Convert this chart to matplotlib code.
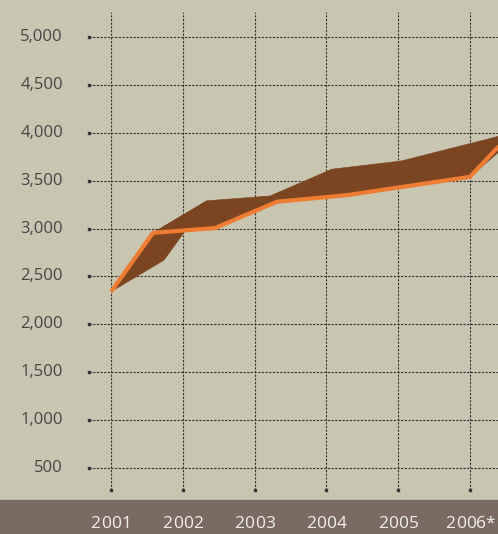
import numpy as np
import matplotlib
matplotlib.use('Agg')
import matplotlib.pyplot as plt
from matplotlib.patches import Polygon

# year labels along the bottom band
years = ['2001', '2002', '2003', '2004', '2005', '2006*']
y_ticks = [500, 1000, 1500, 2000, 2500, 3000, 3500, 4000, 4500, 5000]

# front edge of the ribbon (x in year steps from 2001, value)
front_x = [0.0, 0.585, 1.449, 2.312, 3.301, 5.0, 5.836]
front_v = [2340, 2955, 3005, 3280, 3350, 3540, 4205]
# back edge of the ribbon
back_x = [0.738, 1.337, 2.214, 3.078, 4.039, 5.752, 6.59]
back_v = [2670, 3290, 3340, 3620, 3705, 4030, 4700]

bg = '#c8c6b0'
band = '#7a6a61'
brown = '#7b4521'
orange = '#ee7c33'
grid_c = '#333333'

fig = plt.figure(figsize=(4.98, 5.34), dpi=100)
fig.patch.set_facecolor(bg)
ax = fig.add_axes([0, 0, 1, 1])
ax.set_facecolor(bg)
ax.set_xlim(-1.546, 5.39)
ax.set_ylim(-189, 5386)
ax.axis('off')

# dark band at the bottom
ax.axhspan(-189, 166, color=band, zorder=1)

# dotted grid with small end dots
gx0, gy0, gy1 = -0.306, 270, 5262
for v in y_ticks:
    ax.plot([gx0, 5.39], [v, v], color=grid_c, lw=0.8, ls=(0, (2, 1.3)), zorder=2)
    ax.plot(gx0, v, 's', color=grid_c, ms=2, zorder=2)
    ax.text(-0.668, v, format(v, ','), ha='right', va='center',
            fontsize=12, family='Open Sans', color='#464646')

# letter-spaced year labels, one glyph at a time
step = 7.4  # points between digit centres
for i, lab in enumerate(years):
    ax.plot([i, i], [gy0, gy1], color=grid_c, lw=0.8, ls=(0, (2, 1.3)), zorder=2)
    ax.plot(i, gy0, 's', color=grid_c, ms=2, zorder=2)
    adv = np.array([step if ch.isdigit() else step * 0.8 for ch in lab])
    pos = np.cumsum(adv) - adv / 2 - adv.sum() / 2
    for k, ch in enumerate(lab):
        ax.annotate(ch, (i, -85), xytext=(pos[k], 0),
                    textcoords='offset points', ha='center', va='center',
                    fontsize=12.5, family='Open Sans', weight='medium',
                    color='#f3f1ec', annotation_clip=False)

# ribbon top faces, one quad per segment
for i in range(len(front_x) - 1):
    quad = [(front_x[i], front_v[i]), (front_x[i + 1], front_v[i + 1]),
            (back_x[i + 1], back_v[i + 1]), (back_x[i], back_v[i])]
    ax.add_patch(Polygon(quad, closed=True, facecolor=brown, edgecolor=brown,
                         lw=0.4, zorder=3))

ax.plot(front_x, front_v, color=orange, lw=3, solid_joinstyle='miter',
        solid_capstyle='butt', zorder=4)

plt.savefig('out.png', dpi=100, facecolor=bg)
